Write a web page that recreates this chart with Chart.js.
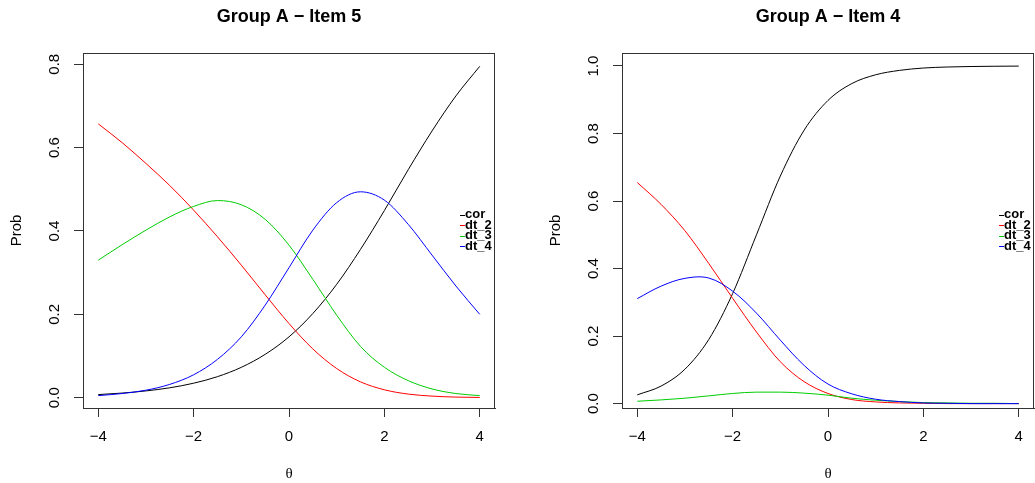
<!DOCTYPE html>
<html><head><meta charset="utf-8">
<script src="https://cdn.jsdelivr.net/npm/chart.js@4.4.0/dist/chart.umd.min.js"></script>
<style>
html,body{margin:0;padding:0;background:#fff;width:1035px;height:483px;overflow:hidden}
canvas{position:absolute;top:0}
#c1{left:0}
#c2{left:517px}
</style></head><body>
<canvas id="c1" width="517" height="483"></canvas>
<canvas id="c2" width="518" height="483"></canvas>
<script>
// ---- data ----
const theta = [-4,-3.5,-3,-2.5,-2,-1.5,-1,-0.5,0,0.5,1,1.5,2,2.5,3,3.5,4];
const seriesNames = ['cor','dt_2','dt_3','dt_4'];

const item5Cor = [0.0075,0.0111,0.0163,0.0238,0.0348,0.0505,0.0729,0.104,0.146,0.202,0.272,0.356,0.449,0.547,0.640,0.724,0.795];
const item5Dt2 = [0.657,0.612,0.562,0.509,0.450,0.386,0.318,0.247,0.178,0.117,0.070,0.038,0.019,0.0087,0.0038,0.0015,0.0006];
const item5Dt3 = [0.330,0.367,0.402,0.434,0.459,0.473,0.463,0.428,0.366,0.284,0.198,0.123,0.073,0.041,0.021,0.010,0.005];
const item5Dt4 = [0.005,0.010,0.018,0.032,0.055,0.092,0.146,0.222,0.312,0.402,0.468,0.494,0.474,0.416,0.342,0.268,0.200];

const item4Cor = [0.026,0.052,0.102,0.190,0.326,0.500,0.674,0.810,0.898,0.948,0.974,0.987,0.994,0.997,0.9985,0.9993,0.9997];
const item4Dt2 = [0.655,0.590,0.512,0.415,0.312,0.212,0.124,0.065,0.030,0.012,0.005,0.002,0.001,0.000,0.000,0.000,0.000];
const item4Dt3 = [0.007,0.011,0.016,0.023,0.030,0.034,0.034,0.031,0.025,0.016,0.010,0.006,0.003,0.002,0.001,0.001,0.000];
const item4Dt4 = [0.311,0.348,0.371,0.372,0.333,0.268,0.188,0.113,0.058,0.029,0.013,0.006,0.002,0.001,0.000,0.000,0.000];

const xTicks = [-4,-2,0,2,4];
const item5YTicks = [0,0.2,0.4,0.6,0.8];
const item4YTicks = [0,0.2,0.4,0.6,0.8,1.0];

// ---- style ----
const lineColors = ['#000000','#FF0000','#00CD00','#0000FF'];
const FONT = "'Liberation Sans', Arial, Helvetica, sans-serif";
Chart.defaults.font.family = FONT;
Chart.defaults.color = '#000';

const decorPlugin = {
  id: 'rdecor',
  afterDraw(chart, args, opts) {
    const ctx = chart.ctx;
    const a = chart.chartArea;
    const cx = (a.left + a.right) / 2;
    const cy = (a.top + a.bottom) / 2;
    ctx.save();
    ctx.strokeStyle = '#333';
    ctx.lineWidth = 1;
    ctx.strokeRect(Math.round(a.left) + 0.5, Math.round(a.top) + 0.5,
                   Math.round(a.right - a.left) - 1, Math.round(a.bottom - a.top));
    ctx.fillStyle = '#000';
    ctx.font = "bold 18px " + FONT;
    ctx.textAlign = 'center';
    ctx.textBaseline = 'middle';
    ctx.fillText(opts.title, cx, 17);
    ctx.font = "15px 'Liberation Serif', 'DejaVu Serif', serif";
    ctx.fillText('\u03B8', cx, 474);
    ctx.font = "15px " + FONT;
    ctx.save();
    ctx.translate(a.left - 66, cy);
    ctx.rotate(-Math.PI / 2);
    ctx.fillText('Prob', 0, 0);
    ctx.restore();
    ctx.font = "bold 13px " + FONT;
    ctx.textAlign = 'left';
    const x0 = a.right - 35;
    chart.data.datasets.forEach((ds, i) => {
      const y = cy + (i - 1.5) * 10.5;
      ctx.strokeStyle = ds.borderColor;
      ctx.lineWidth = 1;
      ctx.beginPath();
      ctx.moveTo(x0, Math.round(y) + 0.5);
      ctx.lineTo(x0 + 5, Math.round(y) + 0.5);
      ctx.stroke();
      ctx.fillStyle = '#000';
      ctx.fillText(ds.label, x0 + 5, y);
    });
    ctx.restore();
  }
};

function makeChart(id, title, series, yTicks, yMin, yMax, yWidth, padRight, splineSeries) {
  const datasets = series.map((vals, i) => ({
    label: seriesNames[i],
    data: theta.map((t, j) => ({x: t, y: vals[j]})),
    borderColor: lineColors[i],
    backgroundColor: lineColors[i],
    borderWidth: 1,
    pointRadius: 0,
    showLine: true,
    fill: false,
    cubicInterpolationMode: splineSeries.includes(i) ? 'default' : 'monotone',
    tension: 0.35,
    order: 3 - i
  }));
  return new Chart(document.getElementById(id), {
    type: 'scatter',
    data: { datasets },
    options: {
      responsive: false,
      animation: false,
      devicePixelRatio: 1,
      layout: { padding: { left: 0, top: 53, right: padRight, bottom: 0 } },
      plugins: {
        legend: { display: false },
        tooltip: { enabled: false },
        title: { display: false },
        rdecor: { title }
      },
      scales: {
        x: {
          type: 'linear', min: -4.32, max: 4.32,
          afterBuildTicks: s => { s.ticks = xTicks.map(v => ({value: v})); },
          afterFit: s => { s.height = 75; },
          grid: { display: true, drawOnChartArea: false, drawTicks: true, tickLength: 9, color: '#333', lineWidth: 1 },
          border: { display: true, color: '#333', width: 1 },
          ticks: {
            autoSkip: false, maxRotation: 0, minRotation: 0, padding: 11,
            font: { size: 15 }, color: '#000',
            callback: v => (v < 0 ? '\u2212' + Math.abs(v) : String(v))
          }
        },
        y: {
          type: 'linear', min: yMin, max: yMax,
          afterBuildTicks: s => { s.ticks = yTicks.map(v => ({value: v})); },
          afterFit: s => { s.width = yWidth; },
          grid: { display: true, drawOnChartArea: false, drawTicks: true, tickLength: 9, color: '#333', lineWidth: 1 },
          border: { display: true, color: '#333', width: 1 },
          ticks: {
            autoSkip: false, minRotation: 90, maxRotation: 90, crossAlign: 'center', padding: 8.5,
            font: { size: 15 }, color: '#000',
            callback: v => Number(v).toFixed(1)
          }
        }
      }
    },
    plugins: [decorPlugin]
  });
}

makeChart('c1', 'Group A \u2212 Item 5', [item5Cor, item5Dt2, item5Dt3, item5Dt4],
          item5YTicks, -0.0247, 0.827, 83, 22, []);
makeChart('c2', 'Group A \u2212 Item 4', [item4Cor, item4Dt2, item4Dt3, item4Dt4],
          item4YTicks, -0.013, 1.0385, 105, 1, [3]);
</script>
</body></html>
